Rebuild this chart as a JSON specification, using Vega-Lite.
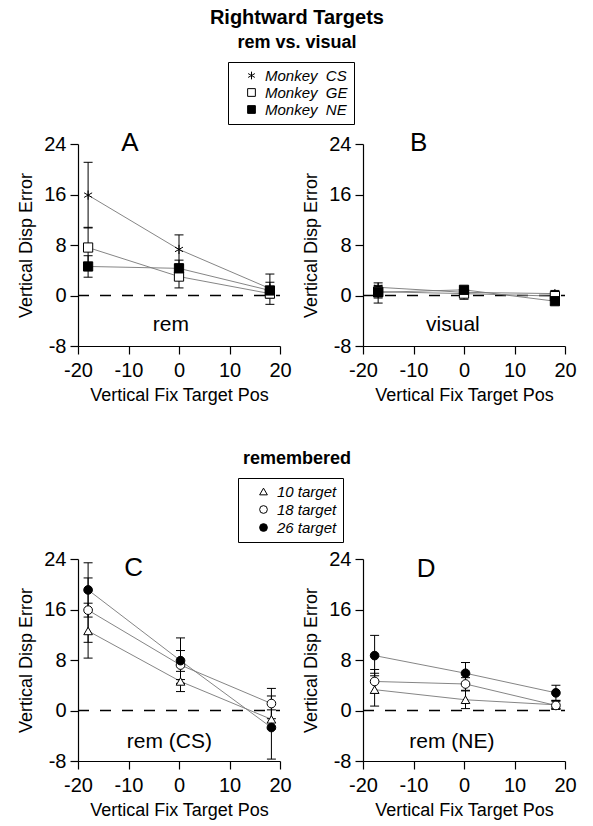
{
  "$schema": "https://vega.github.io/schema/vega-lite/v6.json",
  "background": "white",
  "padding": {"left": 17, "top": 7, "right": 5, "bottom": 5},
  "config": {
    "font": "Liberation Sans",
    "view": {"stroke": null},
    "axis": {"domainColor": "black", "domainWidth": 1.2, "tickColor": "black", "tickWidth": 1.2, "tickSize": 8, "labelFont": "Liberation Sans", "labelFontSize": 20, "labelColor": "black", "labelPadding": 4, "titleFont": "Liberation Sans", "titleFontSize": 18, "titleFontWeight": "normal", "titleColor": "black", "titlePadding": 8, "grid": false},
    "axisX": {"labelPadding": 6, "titlePadding": 6},
    "legend": {"orient": "none", "title": null, "strokeColor": "black", "fillColor": "white", "padding": 6, "rowPadding": 1, "labelFont": "Liberation Sans", "labelFontSize": 15, "labelFontStyle": "italic", "labelColor": "black", "symbolSize": 60, "symbolStrokeColor": "black", "symbolStrokeWidth": 1},
    "title": {"font": "Liberation Sans", "color": "black", "fontWeight": "bold", "subtitleFont": "Liberation Sans", "subtitleColor": "black", "subtitleFontWeight": "bold"}
  },
  "datasets": {
    "top": [
      {"panel": "A", "series": "Monkey\u00a0 CS", "x": -18, "y": 15.9, "lo": 10.7, "hi": 21.1},
      {"panel": "A", "series": "Monkey\u00a0 CS", "x": 0, "y": 7.3, "lo": 5.0, "hi": 9.6},
      {"panel": "A", "series": "Monkey\u00a0 CS", "x": 18, "y": 1.1, "lo": 0.1, "hi": 2.1},
      {"panel": "A", "series": "Monkey\u00a0 GE", "x": -18, "y": 7.6, "lo": 4.4, "hi": 10.8},
      {"panel": "A", "series": "Monkey\u00a0 GE", "x": 0, "y": 3.0, "lo": 1.2, "hi": 4.8},
      {"panel": "A", "series": "Monkey\u00a0 GE", "x": 18, "y": 0.3, "lo": -0.4, "hi": 1.0},
      {"panel": "A", "series": "Monkey\u00a0 NE", "x": -18, "y": 4.6, "lo": 2.9, "hi": 6.3},
      {"panel": "A", "series": "Monkey\u00a0 NE", "x": 0, "y": 4.3, "lo": 3.0, "hi": 5.6},
      {"panel": "A", "series": "Monkey\u00a0 NE", "x": 18, "y": 0.8, "lo": -1.4, "hi": 3.4},
      {"panel": "B", "series": "Monkey\u00a0 CS", "x": -17, "y": 1.3, "lo": 0.6, "hi": 2.0},
      {"panel": "B", "series": "Monkey\u00a0 CS", "x": 0, "y": 0.5, "lo": 0.0, "hi": 1.0},
      {"panel": "B", "series": "Monkey\u00a0 CS", "x": 18, "y": 0.3, "lo": -0.2, "hi": 0.8},
      {"panel": "B", "series": "Monkey\u00a0 GE", "x": -17, "y": 0.6, "lo": -1.2, "hi": 1.6},
      {"panel": "B", "series": "Monkey\u00a0 GE", "x": 0, "y": 0.3, "lo": -0.6, "hi": 0.9},
      {"panel": "B", "series": "Monkey\u00a0 GE", "x": 18, "y": -0.1, "lo": -0.8, "hi": 0.6},
      {"panel": "B", "series": "Monkey\u00a0 NE", "x": -17, "y": 0.5, "lo": -0.4, "hi": 1.4},
      {"panel": "B", "series": "Monkey\u00a0 NE", "x": 0, "y": 0.9, "lo": 0.5, "hi": 1.3},
      {"panel": "B", "series": "Monkey\u00a0 NE", "x": 18, "y": -0.9, "lo": -1.4, "hi": -0.4}
    ],
    "bottom": [
      {"panel": "C", "series": "10 target", "x": -18, "y": 12.6, "lo": 8.3, "hi": 17.0},
      {"panel": "C", "series": "10 target", "x": 0.3, "y": 4.6, "lo": 3.0, "hi": 6.2},
      {"panel": "C", "series": "10 target", "x": 18.3, "y": -1.4, "lo": -2.9, "hi": 0.1},
      {"panel": "C", "series": "18 target", "x": -18, "y": 15.9, "lo": 10.8, "hi": 21.0},
      {"panel": "C", "series": "18 target", "x": 0.3, "y": 7.2, "lo": 4.9, "hi": 9.5},
      {"panel": "C", "series": "18 target", "x": 18.3, "y": 1.1, "lo": -1.3, "hi": 3.5},
      {"panel": "C", "series": "26 target", "x": -18, "y": 19.1, "lo": 14.8, "hi": 23.4},
      {"panel": "C", "series": "26 target", "x": 0.3, "y": 7.9, "lo": 4.3, "hi": 11.5},
      {"panel": "C", "series": "26 target", "x": 18.3, "y": -2.7, "lo": -7.7, "hi": 2.3},
      {"panel": "D", "series": "10 target", "x": -17.7, "y": 3.3, "lo": 0.7, "hi": 5.9},
      {"panel": "D", "series": "10 target", "x": 0.3, "y": 1.7, "lo": 0.3, "hi": 3.1},
      {"panel": "D", "series": "10 target", "x": 18.2, "y": 0.9, "lo": 0.2, "hi": 1.6},
      {"panel": "D", "series": "18 target", "x": -17.7, "y": 4.6, "lo": 2.7, "hi": 6.5},
      {"panel": "D", "series": "18 target", "x": 0.3, "y": 4.2, "lo": 3.2, "hi": 5.2},
      {"panel": "D", "series": "18 target", "x": 18.2, "y": 0.8, "lo": 0.2, "hi": 1.4},
      {"panel": "D", "series": "26 target", "x": -17.7, "y": 8.7, "lo": 5.5, "hi": 11.9},
      {"panel": "D", "series": "26 target", "x": 0.3, "y": 5.9, "lo": 4.2, "hi": 7.6},
      {"panel": "D", "series": "26 target", "x": 18.2, "y": 2.8, "lo": 1.6, "hi": 4.0}
    ],
    "labels": [
      {"panel": "A", "kind": "letter", "label": "A", "lx": -9.7, "ly": 22.9},
      {"panel": "A", "kind": "tag", "label": "rem", "lx": -1.6, "ly": -5.7},
      {"panel": "B", "kind": "letter", "label": "B", "lx": -9.0, "ly": 22.9},
      {"panel": "B", "kind": "tag", "label": "visual", "lx": -2.2, "ly": -5.6},
      {"panel": "C", "kind": "letter", "label": "C", "lx": -9.0, "ly": 21.3},
      {"panel": "C", "kind": "tag", "label": "rem (CS)", "lx": -1.9, "ly": -6.0},
      {"panel": "D", "kind": "letter", "label": "D", "lx": -7.5, "ly": 21.1},
      {"panel": "D", "kind": "tag", "label": "rem (NE)", "lx": -2.4, "ly": -6.0}
    ]
  },
  "title": {"text": "Rightward Targets", "subtitle": "rem  vs.  visual", "fontSize": 20, "subtitleFontSize": 18, "subtitlePadding": 6, "anchor": "middle", "offset": 10},
  "spacing": 45,
  "resolve": {"scale": {"shape": "independent", "fill": "independent", "stroke": "independent", "x": "independent", "y": "independent"}, "legend": {"shape": "independent", "fill": "independent", "stroke": "independent"}},
  "vconcat": [
    {
      "spacing": 10,
      "resolve": {"scale": {"x": "independent", "y": "independent"}},
      "hconcat": [
        {
          "width": 202, "height": 202,
          "layer": [
            {"data": {"values": [{}]}, "mark": {"type": "rule", "color": "black", "strokeWidth": 1.3, "strokeDash": [11, 11]},
             "encoding": {"x": {"datum": -20, "type": "quantitative", "scale": {"domain": [-20, 20], "nice": false, "zero": false}, "axis": {"title": "Vertical Fix Target Pos"}}, "x2": {"datum": 20}, "y": {"datum": 0, "type": "quantitative", "scale": {"domain": [-8, 24], "nice": false, "zero": false}, "axis": {"title": "Vertical Disp Error"}}}},
            {"data": {"name": "top"}, "transform": [{"filter": "datum.panel === 'A'"}], "mark": {"type": "line", "color": "#777", "strokeWidth": 0.9},
             "encoding": {"x": {"field": "x", "type": "quantitative", "scale": {"domain": [-20, 20], "nice": false, "zero": false}, "axis": {"title": "Vertical Fix Target Pos", "values": [-20, -15, -10, -5, 0, 5, 10, 15, 20], "labelExpr": "datum.value % 10 === 0 ? '' + datum.value : ''", "labelFlush": false}}, "y": {"field": "y", "type": "quantitative", "scale": {"domain": [-8, 24], "nice": false, "zero": false}, "axis": {"title": "Vertical Disp Error", "values": [-8, 0, 8, 16, 24], "labelExpr": "'' + datum.value"}}, "detail": {"field": "series"}}},
            {"data": {"name": "top"}, "transform": [{"filter": "datum.panel === 'A'"}], "mark": {"type": "rule", "color": "black", "strokeWidth": 1},
             "encoding": {"x": {"field": "x", "type": "quantitative", "axis": {"title": "Vertical Fix Target Pos"}}, "y": {"field": "lo", "type": "quantitative", "axis": {"title": "Vertical Disp Error"}}, "y2": {"field": "hi"}}},
            {"data": {"name": "top"}, "transform": [{"filter": "datum.panel === 'A'"}], "mark": {"type": "point", "shape": "stroke", "size": 81, "stroke": "black", "strokeWidth": 1, "opacity": 1},
             "encoding": {"x": {"field": "x", "type": "quantitative", "axis": {"title": "Vertical Fix Target Pos"}}, "y": {"field": "hi", "type": "quantitative", "axis": {"title": "Vertical Disp Error"}}}},
            {"data": {"name": "top"}, "transform": [{"filter": "datum.panel === 'A'"}], "mark": {"type": "point", "shape": "stroke", "size": 81, "stroke": "black", "strokeWidth": 1, "opacity": 1},
             "encoding": {"x": {"field": "x", "type": "quantitative", "axis": {"title": "Vertical Fix Target Pos"}}, "y": {"field": "lo", "type": "quantitative", "axis": {"title": "Vertical Disp Error"}}}},
            {"data": {"name": "top"}, "transform": [{"filter": "datum.panel === 'A'"}], "mark": {"type": "point", "size": 85, "strokeWidth": 1, "opacity": 1, "fillOpacity": 1, "strokeOpacity": 1},
             "encoding": {"x": {"field": "x", "type": "quantitative", "axis": {"title": "Vertical Fix Target Pos"}}, "y": {"field": "y", "type": "quantitative", "axis": {"title": "Vertical Disp Error"}},
               "shape": {"field": "series", "type": "nominal", "scale": {"domain": ["Monkey\u00a0 CS", "Monkey\u00a0 GE", "Monkey\u00a0 NE"], "range": ["M0,-1L0,1M-0.87,-0.5L0.87,0.5M-0.87,0.5L0.87,-0.5", "square", "square"]},
                 "legend": {"orient": "none", "legendX": 150, "legendY": -82, "symbolOffset": 10, "labelOffset": 6}},
               "fill": {"field": "series", "type": "nominal", "scale": {"domain": ["Monkey\u00a0 CS", "Monkey\u00a0 GE", "Monkey\u00a0 NE"], "range": ["white", "white", "black"]},
                 "legend": {"orient": "none", "legendX": 150, "legendY": -82, "symbolOffset": 10, "labelOffset": 6}},
               "stroke": {"field": "series", "type": "nominal", "scale": {"domain": ["Monkey\u00a0 CS", "Monkey\u00a0 GE", "Monkey\u00a0 NE"], "range": ["black", "black", "black"]},
                 "legend": {"orient": "none", "legendX": 150, "legendY": -82, "symbolOffset": 10, "labelOffset": 6}}}},
            {"data": {"name": "labels"}, "transform": [{"filter": "datum.panel === 'A' && datum.kind === 'letter'"}], "mark": {"type": "text", "font": "Liberation Sans", "fontSize": 26, "align": "center", "baseline": "alphabetic", "color": "black"},
             "encoding": {"x": {"field": "lx", "type": "quantitative", "axis": {"title": "Vertical Fix Target Pos"}}, "y": {"field": "ly", "type": "quantitative", "axis": {"title": "Vertical Disp Error"}}, "text": {"field": "label"}}},
            {"data": {"name": "labels"}, "transform": [{"filter": "datum.panel === 'A' && datum.kind === 'tag'"}], "mark": {"type": "text", "font": "Liberation Sans", "fontSize": 21, "align": "center", "baseline": "alphabetic", "color": "black"},
             "encoding": {"x": {"field": "lx", "type": "quantitative", "axis": {"title": "Vertical Fix Target Pos"}}, "y": {"field": "ly", "type": "quantitative", "axis": {"title": "Vertical Disp Error"}}, "text": {"field": "label"}}}
          ]
        },
        {
          "width": 202, "height": 202,
          "layer": [
            {"data": {"values": [{}]}, "mark": {"type": "rule", "color": "black", "strokeWidth": 1.3, "strokeDash": [11, 11]},
             "encoding": {"x": {"datum": -20, "type": "quantitative", "scale": {"domain": [-20, 20], "nice": false, "zero": false}, "axis": {"title": "Vertical Fix Target Pos"}}, "x2": {"datum": 20}, "y": {"datum": 0, "type": "quantitative", "scale": {"domain": [-8, 24], "nice": false, "zero": false}, "axis": {"title": "Vertical Disp Error"}}}},
            {"data": {"name": "top"}, "transform": [{"filter": "datum.panel === 'B'"}], "mark": {"type": "line", "color": "#777", "strokeWidth": 0.9},
             "encoding": {"x": {"field": "x", "type": "quantitative", "scale": {"domain": [-20, 20], "nice": false, "zero": false}, "axis": {"title": "Vertical Fix Target Pos", "values": [-20, -15, -10, -5, 0, 5, 10, 15, 20], "labelExpr": "datum.value % 10 === 0 ? '' + datum.value : ''", "labelFlush": false}}, "y": {"field": "y", "type": "quantitative", "scale": {"domain": [-8, 24], "nice": false, "zero": false}, "axis": {"title": "Vertical Disp Error", "values": [-8, 0, 8, 16, 24], "labelExpr": "'' + datum.value"}}, "detail": {"field": "series"}}},
            {"data": {"name": "top"}, "transform": [{"filter": "datum.panel === 'B'"}], "mark": {"type": "rule", "color": "black", "strokeWidth": 1},
             "encoding": {"x": {"field": "x", "type": "quantitative", "axis": {"title": "Vertical Fix Target Pos"}}, "y": {"field": "lo", "type": "quantitative", "axis": {"title": "Vertical Disp Error"}}, "y2": {"field": "hi"}}},
            {"data": {"name": "top"}, "transform": [{"filter": "datum.panel === 'B'"}], "mark": {"type": "point", "shape": "stroke", "size": 81, "stroke": "black", "strokeWidth": 1, "opacity": 1},
             "encoding": {"x": {"field": "x", "type": "quantitative", "axis": {"title": "Vertical Fix Target Pos"}}, "y": {"field": "hi", "type": "quantitative", "axis": {"title": "Vertical Disp Error"}}}},
            {"data": {"name": "top"}, "transform": [{"filter": "datum.panel === 'B'"}], "mark": {"type": "point", "shape": "stroke", "size": 81, "stroke": "black", "strokeWidth": 1, "opacity": 1},
             "encoding": {"x": {"field": "x", "type": "quantitative", "axis": {"title": "Vertical Fix Target Pos"}}, "y": {"field": "lo", "type": "quantitative", "axis": {"title": "Vertical Disp Error"}}}},
            {"data": {"name": "top"}, "transform": [{"filter": "datum.panel === 'B'"}], "mark": {"type": "point", "size": 85, "strokeWidth": 1, "opacity": 1, "fillOpacity": 1, "strokeOpacity": 1},
             "encoding": {"x": {"field": "x", "type": "quantitative", "axis": {"title": "Vertical Fix Target Pos"}}, "y": {"field": "y", "type": "quantitative", "axis": {"title": "Vertical Disp Error"}},
               "shape": {"field": "series", "type": "nominal", "scale": {"domain": ["Monkey\u00a0 CS", "Monkey\u00a0 GE", "Monkey\u00a0 NE"], "range": ["M0,-1L0,1M-0.87,-0.5L0.87,0.5M-0.87,0.5L0.87,-0.5", "square", "square"]},
                 "legend": {"orient": "none", "legendX": 150, "legendY": -82, "symbolOffset": 10, "labelOffset": 6}},
               "fill": {"field": "series", "type": "nominal", "scale": {"domain": ["Monkey\u00a0 CS", "Monkey\u00a0 GE", "Monkey\u00a0 NE"], "range": ["white", "white", "black"]},
                 "legend": {"orient": "none", "legendX": 150, "legendY": -82, "symbolOffset": 10, "labelOffset": 6}},
               "stroke": {"field": "series", "type": "nominal", "scale": {"domain": ["Monkey\u00a0 CS", "Monkey\u00a0 GE", "Monkey\u00a0 NE"], "range": ["black", "black", "black"]},
                 "legend": {"orient": "none", "legendX": 150, "legendY": -82, "symbolOffset": 10, "labelOffset": 6}}}},
            {"data": {"name": "labels"}, "transform": [{"filter": "datum.panel === 'B' && datum.kind === 'letter'"}], "mark": {"type": "text", "font": "Liberation Sans", "fontSize": 26, "align": "center", "baseline": "alphabetic", "color": "black"},
             "encoding": {"x": {"field": "lx", "type": "quantitative", "axis": {"title": "Vertical Fix Target Pos"}}, "y": {"field": "ly", "type": "quantitative", "axis": {"title": "Vertical Disp Error"}}, "text": {"field": "label"}}},
            {"data": {"name": "labels"}, "transform": [{"filter": "datum.panel === 'B' && datum.kind === 'tag'"}], "mark": {"type": "text", "font": "Liberation Sans", "fontSize": 21, "align": "center", "baseline": "alphabetic", "color": "black"},
             "encoding": {"x": {"field": "lx", "type": "quantitative", "axis": {"title": "Vertical Fix Target Pos"}}, "y": {"field": "ly", "type": "quantitative", "axis": {"title": "Vertical Disp Error"}}, "text": {"field": "label"}}}
          ]
        }
      ]
    },
    {
      "title": {"text": "remembered", "fontSize": 18, "anchor": "middle", "offset": 10},
      "spacing": 10,
      "resolve": {"scale": {"x": "independent", "y": "independent"}},
      "hconcat": [
        {
          "width": 202, "height": 202,
          "layer": [
            {"data": {"values": [{}]}, "mark": {"type": "rule", "color": "black", "strokeWidth": 1.3, "strokeDash": [11, 11]},
             "encoding": {"x": {"datum": -20, "type": "quantitative", "scale": {"domain": [-20, 20], "nice": false, "zero": false}, "axis": {"title": "Vertical Fix Target Pos"}}, "x2": {"datum": 20}, "y": {"datum": 0, "type": "quantitative", "scale": {"domain": [-8, 24], "nice": false, "zero": false}, "axis": {"title": "Vertical Disp Error"}}}},
            {"data": {"name": "bottom"}, "transform": [{"filter": "datum.panel === 'C'"}], "mark": {"type": "line", "color": "#777", "strokeWidth": 0.9},
             "encoding": {"x": {"field": "x", "type": "quantitative", "scale": {"domain": [-20, 20], "nice": false, "zero": false}, "axis": {"title": "Vertical Fix Target Pos", "values": [-20, -15, -10, -5, 0, 5, 10, 15, 20], "labelExpr": "datum.value % 10 === 0 ? '' + datum.value : ''", "labelFlush": false}}, "y": {"field": "y", "type": "quantitative", "scale": {"domain": [-8, 24], "nice": false, "zero": false}, "axis": {"title": "Vertical Disp Error", "values": [-8, 0, 8, 16, 24], "labelExpr": "'' + datum.value"}}, "detail": {"field": "series"}}},
            {"data": {"name": "bottom"}, "transform": [{"filter": "datum.panel === 'C'"}], "mark": {"type": "rule", "color": "black", "strokeWidth": 1},
             "encoding": {"x": {"field": "x", "type": "quantitative", "axis": {"title": "Vertical Fix Target Pos"}}, "y": {"field": "lo", "type": "quantitative", "axis": {"title": "Vertical Disp Error"}}, "y2": {"field": "hi"}}},
            {"data": {"name": "bottom"}, "transform": [{"filter": "datum.panel === 'C'"}], "mark": {"type": "point", "shape": "stroke", "size": 81, "stroke": "black", "strokeWidth": 1, "opacity": 1},
             "encoding": {"x": {"field": "x", "type": "quantitative", "axis": {"title": "Vertical Fix Target Pos"}}, "y": {"field": "hi", "type": "quantitative", "axis": {"title": "Vertical Disp Error"}}}},
            {"data": {"name": "bottom"}, "transform": [{"filter": "datum.panel === 'C'"}], "mark": {"type": "point", "shape": "stroke", "size": 81, "stroke": "black", "strokeWidth": 1, "opacity": 1},
             "encoding": {"x": {"field": "x", "type": "quantitative", "axis": {"title": "Vertical Fix Target Pos"}}, "y": {"field": "lo", "type": "quantitative", "axis": {"title": "Vertical Disp Error"}}}},
            {"data": {"name": "bottom"}, "transform": [{"filter": "datum.panel === 'C'"}], "mark": {"type": "point", "size": 75, "strokeWidth": 1, "opacity": 1, "fillOpacity": 1, "strokeOpacity": 1},
             "encoding": {"x": {"field": "x", "type": "quantitative", "axis": {"title": "Vertical Fix Target Pos"}}, "y": {"field": "y", "type": "quantitative", "axis": {"title": "Vertical Disp Error"}},
               "shape": {"field": "series", "type": "nominal", "scale": {"domain": ["10 target", "18 target", "26 target"], "range": ["triangle-up", "circle", "circle"]},
                 "legend": {"orient": "none", "legendX": 160, "legendY": -81, "symbolOffset": 12, "labelOffset": 6, "rowPadding": 2}},
               "fill": {"field": "series", "type": "nominal", "scale": {"domain": ["10 target", "18 target", "26 target"], "range": ["white", "white", "black"]},
                 "legend": {"orient": "none", "legendX": 160, "legendY": -81, "symbolOffset": 12, "labelOffset": 6, "rowPadding": 2}},
               "stroke": {"field": "series", "type": "nominal", "scale": {"domain": ["10 target", "18 target", "26 target"], "range": ["black", "black", "black"]},
                 "legend": {"orient": "none", "legendX": 160, "legendY": -81, "symbolOffset": 12, "labelOffset": 6, "rowPadding": 2}}}},
            {"data": {"name": "labels"}, "transform": [{"filter": "datum.panel === 'C' && datum.kind === 'letter'"}], "mark": {"type": "text", "font": "Liberation Sans", "fontSize": 26, "align": "center", "baseline": "alphabetic", "color": "black"},
             "encoding": {"x": {"field": "lx", "type": "quantitative", "axis": {"title": "Vertical Fix Target Pos"}}, "y": {"field": "ly", "type": "quantitative", "axis": {"title": "Vertical Disp Error"}}, "text": {"field": "label"}}},
            {"data": {"name": "labels"}, "transform": [{"filter": "datum.panel === 'C' && datum.kind === 'tag'"}], "mark": {"type": "text", "font": "Liberation Sans", "fontSize": 21, "align": "center", "baseline": "alphabetic", "color": "black"},
             "encoding": {"x": {"field": "lx", "type": "quantitative", "axis": {"title": "Vertical Fix Target Pos"}}, "y": {"field": "ly", "type": "quantitative", "axis": {"title": "Vertical Disp Error"}}, "text": {"field": "label"}}}
          ]
        },
        {
          "width": 202, "height": 202,
          "layer": [
            {"data": {"values": [{}]}, "mark": {"type": "rule", "color": "black", "strokeWidth": 1.3, "strokeDash": [11, 11]},
             "encoding": {"x": {"datum": -20, "type": "quantitative", "scale": {"domain": [-20, 20], "nice": false, "zero": false}, "axis": {"title": "Vertical Fix Target Pos"}}, "x2": {"datum": 20}, "y": {"datum": 0, "type": "quantitative", "scale": {"domain": [-8, 24], "nice": false, "zero": false}, "axis": {"title": "Vertical Disp Error"}}}},
            {"data": {"name": "bottom"}, "transform": [{"filter": "datum.panel === 'D'"}], "mark": {"type": "line", "color": "#777", "strokeWidth": 0.9},
             "encoding": {"x": {"field": "x", "type": "quantitative", "scale": {"domain": [-20, 20], "nice": false, "zero": false}, "axis": {"title": "Vertical Fix Target Pos", "values": [-20, -15, -10, -5, 0, 5, 10, 15, 20], "labelExpr": "datum.value % 10 === 0 ? '' + datum.value : ''", "labelFlush": false}}, "y": {"field": "y", "type": "quantitative", "scale": {"domain": [-8, 24], "nice": false, "zero": false}, "axis": {"title": "Vertical Disp Error", "values": [-8, 0, 8, 16, 24], "labelExpr": "'' + datum.value"}}, "detail": {"field": "series"}}},
            {"data": {"name": "bottom"}, "transform": [{"filter": "datum.panel === 'D'"}], "mark": {"type": "rule", "color": "black", "strokeWidth": 1},
             "encoding": {"x": {"field": "x", "type": "quantitative", "axis": {"title": "Vertical Fix Target Pos"}}, "y": {"field": "lo", "type": "quantitative", "axis": {"title": "Vertical Disp Error"}}, "y2": {"field": "hi"}}},
            {"data": {"name": "bottom"}, "transform": [{"filter": "datum.panel === 'D'"}], "mark": {"type": "point", "shape": "stroke", "size": 81, "stroke": "black", "strokeWidth": 1, "opacity": 1},
             "encoding": {"x": {"field": "x", "type": "quantitative", "axis": {"title": "Vertical Fix Target Pos"}}, "y": {"field": "hi", "type": "quantitative", "axis": {"title": "Vertical Disp Error"}}}},
            {"data": {"name": "bottom"}, "transform": [{"filter": "datum.panel === 'D'"}], "mark": {"type": "point", "shape": "stroke", "size": 81, "stroke": "black", "strokeWidth": 1, "opacity": 1},
             "encoding": {"x": {"field": "x", "type": "quantitative", "axis": {"title": "Vertical Fix Target Pos"}}, "y": {"field": "lo", "type": "quantitative", "axis": {"title": "Vertical Disp Error"}}}},
            {"data": {"name": "bottom"}, "transform": [{"filter": "datum.panel === 'D'"}], "mark": {"type": "point", "size": 75, "strokeWidth": 1, "opacity": 1, "fillOpacity": 1, "strokeOpacity": 1},
             "encoding": {"x": {"field": "x", "type": "quantitative", "axis": {"title": "Vertical Fix Target Pos"}}, "y": {"field": "y", "type": "quantitative", "axis": {"title": "Vertical Disp Error"}},
               "shape": {"field": "series", "type": "nominal", "scale": {"domain": ["10 target", "18 target", "26 target"], "range": ["triangle-up", "circle", "circle"]},
                 "legend": {"orient": "none", "legendX": 160, "legendY": -81, "symbolOffset": 12, "labelOffset": 6, "rowPadding": 2}},
               "fill": {"field": "series", "type": "nominal", "scale": {"domain": ["10 target", "18 target", "26 target"], "range": ["white", "white", "black"]},
                 "legend": {"orient": "none", "legendX": 160, "legendY": -81, "symbolOffset": 12, "labelOffset": 6, "rowPadding": 2}},
               "stroke": {"field": "series", "type": "nominal", "scale": {"domain": ["10 target", "18 target", "26 target"], "range": ["black", "black", "black"]},
                 "legend": {"orient": "none", "legendX": 160, "legendY": -81, "symbolOffset": 12, "labelOffset": 6, "rowPadding": 2}}}},
            {"data": {"name": "labels"}, "transform": [{"filter": "datum.panel === 'D' && datum.kind === 'letter'"}], "mark": {"type": "text", "font": "Liberation Sans", "fontSize": 26, "align": "center", "baseline": "alphabetic", "color": "black"},
             "encoding": {"x": {"field": "lx", "type": "quantitative", "axis": {"title": "Vertical Fix Target Pos"}}, "y": {"field": "ly", "type": "quantitative", "axis": {"title": "Vertical Disp Error"}}, "text": {"field": "label"}}},
            {"data": {"name": "labels"}, "transform": [{"filter": "datum.panel === 'D' && datum.kind === 'tag'"}], "mark": {"type": "text", "font": "Liberation Sans", "fontSize": 21, "align": "center", "baseline": "alphabetic", "color": "black"},
             "encoding": {"x": {"field": "lx", "type": "quantitative", "axis": {"title": "Vertical Fix Target Pos"}}, "y": {"field": "ly", "type": "quantitative", "axis": {"title": "Vertical Disp Error"}}, "text": {"field": "label"}}}
          ]
        }
      ]
    }
  ]
}
